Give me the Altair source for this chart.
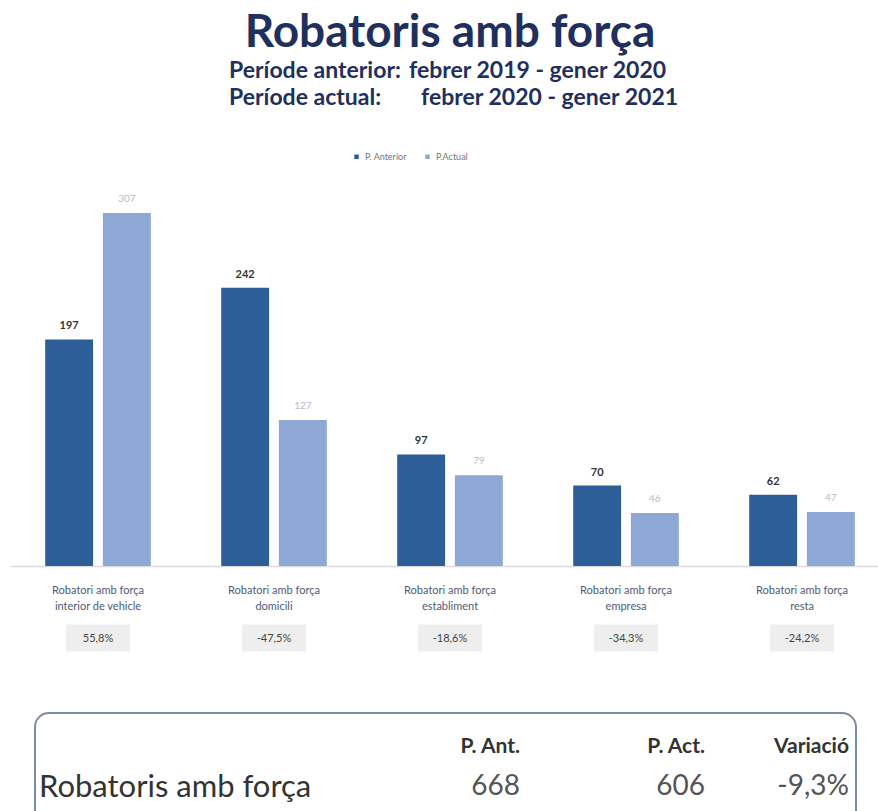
import altair as alt
import pandas as pd

# ---------------- data ----------------
categories = [
    "interior de vehicle",
    "domicili",
    "establiment",
    "empresa",
    "resta",
]
category_labels = [
    "Robatori amb força\ninterior de vehicle",
    "Robatori amb força\ndomicili",
    "Robatori amb força\nestabliment",
    "Robatori amb força\nempresa",
    "Robatori amb força\nresta",
]
periods = ["P. Anterior", "P.Actual"]
anterior = [197, 242, 97, 70, 62]
actual = [307, 127, 79, 46, 47]
variacio = ["55,8%", "-47,5%", "-18,6%", "-34,3%", "-24,2%"]

total_row_label = "Robatoris amb força"
total_headers = ["P. Ant.", "P. Act.", "Variació"]
total_values = ["668", "606", "-9,3%"]

title_text = "Robatoris amb força"
sub_labels = ["Període anterior:", "Període actual:"]
sub_dates = ["febrer 2019 - gener 2020", "febrer 2020 - gener 2021"]

# ---------------- tables ----------------
rows = []
for c, a, b in zip(categories, anterior, actual):
    rows.append({"cat": c, "period": periods[0], "value": a})
    rows.append({"cat": c, "period": periods[1], "value": b})
bars_df = pd.DataFrame(rows)
cat_df = pd.DataFrame({"cat": categories, "label": category_labels, "var": variacio})

# ---------------- style ----------------
DARK = "#2d5e98"
LIGHT = "#8ea7d4"
NAVY = "#1f2f5e"
FONT = "Lato"

xscale = alt.Scale(domain=categories, range=[10, 890], paddingInner=0.4, paddingOuter=0.2)
xaxis = alt.Axis(labels=False, ticks=False, title=None, grid=False, domain=True,
                 domainColor="#dcdcdc", domainWidth=1.5, offset=-245)
X = alt.X("cat:N", scale=xscale, axis=xaxis)
Y = alt.Y("value:Q", scale=alt.Scale(domain=[0, 307], range=[566, 213], nice=False, zero=True), axis=None)
XO = alt.XOffset("period:N", scale=alt.Scale(domain=periods, paddingInner=0.17, paddingOuter=0))

bars = alt.Chart(bars_df).mark_bar().encode(
    x=X, xOffset=XO, y=Y,
    color=alt.Color(
        "period:N",
        scale=alt.Scale(domain=periods, range=[DARK, LIGHT]),
        legend=alt.Legend(
            orient="none", legendX=352, legendY=152, direction="horizontal",
            title=None, symbolType="square", symbolSize=20, labelFontSize=9,
            labelColor="#777777", labelFont=FONT, columnPadding=16,
        ),
    ),
)

lab_ant = alt.Chart(bars_df).transform_filter(alt.datum.period == periods[0]).mark_text(
    dy=-13, fontSize=11, fontWeight="bold", color="#333333", font=FONT
).encode(x=X, xOffset=XO, y=Y, text="value:Q")

lab_act = alt.Chart(bars_df).transform_filter(alt.datum.period == periods[1]).mark_text(
    dy=-14, fontSize=10, color="#b3bccb", font=FONT
).encode(x=X, xOffset=XO, y=Y, text="value:Q")

cat_labels = alt.Chart(cat_df).mark_text(
    lineBreak="\n", fontSize=11, color="#4d5b78", font=FONT, baseline="middle", lineHeight=16
).encode(x=X, y=alt.value(591), text="label:N")

# grey boxes behind the variation percentages (64 x 27 px rectangles)
BOX_PATH = "M-1,-0.42H1V0.42H-1Z"
var_boxes = alt.Chart(cat_df).mark_point(
    shape=BOX_PATH, size=64 * 64, filled=True, fill="#eeeeee", opacity=1, strokeWidth=0
).encode(x=X, y=alt.value(638))

var_text = alt.Chart(cat_df).mark_text(fontSize=11, color="#444444", font=FONT, baseline="middle").encode(
    x=X, y=alt.value(639), text="var:N"
)

# ---------------- titles ----------------
one = pd.DataFrame({"k": [0]})
title = alt.Chart(one).mark_text(
    text=title_text, fontSize=46, fontWeight="bold", color=NAVY, font=FONT, align="center", baseline="middle"
).encode(x=alt.value(450), y=alt.value(33))

sub_date_x = [409, 421]
sub_layers = []
for i, (lab, dat) in enumerate(zip(sub_labels, sub_dates)):
    yy = 71 + i * 27
    sub_layers.append(alt.Chart(one).mark_text(
        text=lab, fontSize=23, fontWeight="bold", color=NAVY, font=FONT, align="left", baseline="middle"
    ).encode(x=alt.value(229), y=alt.value(yy)))
    sub_layers.append(alt.Chart(one).mark_text(
        text=dat, fontSize=23, fontWeight="bold", color=NAVY, font=FONT, align="left", baseline="middle"
    ).encode(x=alt.value(sub_date_x[i]), y=alt.value(yy)))

# ---------------- summary box ----------------
box = alt.Chart(one).mark_rect(
    cornerRadius=14, fill="white", stroke="#808b9d", strokeWidth=2
).encode(x=alt.value(35), x2=alt.value(856), y=alt.value(713), y2=alt.value(840))

row_label = alt.Chart(one).mark_text(
    text=total_row_label, fontSize=31, color="#333333", font=FONT, align="left", baseline="middle"
).encode(x=alt.value(39), y=alt.value(788))

table_x = [520, 705, 849]
table_layers = []
for tx, h, v in zip(table_x, total_headers, total_values):
    table_layers.append(alt.Chart(one).mark_text(
        text=h, fontSize=21, fontWeight="bold", color="#333333", font=FONT, align="right", baseline="middle"
    ).encode(x=alt.value(tx), y=alt.value(747)))
    table_layers.append(alt.Chart(one).mark_text(
        text=v, fontSize=28, color="#555555", font=FONT, align="right", baseline="middle"
    ).encode(x=alt.value(tx), y=alt.value(787)))

chart = alt.layer(
    bars, lab_ant, lab_act, cat_labels, var_boxes, var_text,
    title, *sub_layers, box, row_label, *table_layers
).properties(
    width=878, height=811, autosize=alt.AutoSizeParams(type="none"), padding=0,
    background="white",
).configure_view(stroke=None)

chart.save("out.html", embed_options={"renderer": "svg", "actions": False})
